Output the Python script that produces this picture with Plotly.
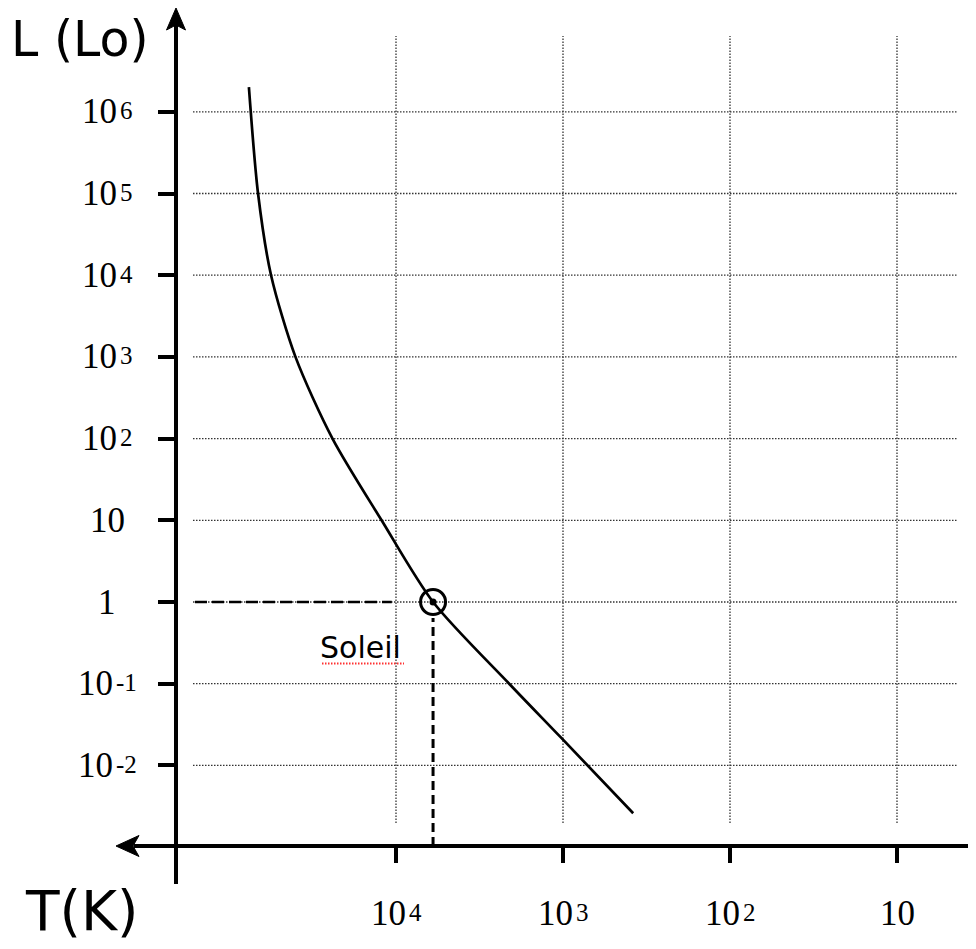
import plotly.graph_objects as go
import math

# ---------------- data ----------------
curve_T = [76000, 67000, 56000, 40000, 24000, 12200, 6000, 2100, 1030, 380]
curve_L = [2.0e6, 1.0e5, 1.0e4, 1.0e3, 1.0e2, 10, 1, 0.1, 0.022, 0.0026]

sun_T = 6000
sun_L = 1
sun_label = "Soleil"

x_tickvals = [1e4, 1e3, 1e2, 10]
x_tickbase = ["10", "10", "10", "10"]
x_tickexp = ["4", "3", "2", ""]
y_tickvals = [1e-2, 1e-1, 1, 10, 1e2, 1e3, 1e4, 1e5, 1e6]
y_tickbase = ["10", "10", "1", "10", "10", "10", "10", "10", "10"]
y_tickexp = ["-2", "-1", "", "", "2", "3", "4", "5", "6"]

y_title = "L (Lo)"
x_title = "T(K)"

# ---------------- layout geometry ----------------
# the page body adds an 8px margin, so the figure is drawn 8px smaller
# and every position below is given in page pixels
OFF = 8
W, H = 976 - OFF, 949 - OFF
PLOT_L, PLOT_R, PLOT_T, PLOT_B = 176, 976, 15, 846     # page pixels
ML, MR = PLOT_L - OFF, 0
MT, MB = PLOT_T - OFF, H - (PLOT_B - OFF)
PW, PH = W - ML - MR, H - MT - MB
X_DEC, X_REF = 167.0, 396.0   # px per decade, px of 10^4
Y_DEC, Y_REF = 81.7, 602.0    # px per decade, px of 10^0
x_range = [4 + (X_REF - PLOT_L) / X_DEC, 4 - (PLOT_R - X_REF) / X_DEC]
y_range = [(Y_REF - PLOT_B) / Y_DEC, (Y_REF - PLOT_T) / Y_DEC]


def px(p):
    return (p - PLOT_L) / PW


def py(p):
    return (PLOT_B - p) / PH


SERIF = "Liberation Serif"
SANS = "DejaVu Sans"
BIG, SMALL = 35, 25
DIGIT_W, MINUS_W = 0.5 * BIG, 0.5 * SMALL


def exp_width(e):
    return sum(MINUS_W * 0.66 if c == "-" else DIGIT_W * SMALL / BIG for c in e)


fig = go.Figure()

# guide lines to the Sun
fig.add_trace(go.Scatter(
    x=[10 ** (x_range[0] - 19 / X_DEC), 1.06e4], y=[sun_L, sun_L],
    mode="lines", line=dict(color="black", width=2.6, dash="12px,5px"),
    hoverinfo="skip", showlegend=False, cliponaxis=False))
fig.add_trace(go.Scatter(
    x=[sun_T, sun_T], y=[10 ** y_range[0], sun_L * 10 ** (-16 / Y_DEC)],
    mode="lines", line=dict(color="black", width=3, dash="9px,5px"),
    hoverinfo="skip", showlegend=False, cliponaxis=False))

# main sequence curve
fig.add_trace(go.Scatter(
    x=curve_T, y=curve_L, mode="lines",
    line=dict(color="black", width=2.7, shape="spline", smoothing=0.8),
    showlegend=False))

# Sun marker
fig.add_trace(go.Scatter(
    x=[sun_T], y=[sun_L], mode="markers",
    marker=dict(symbol="circle-open", size=25, color="black",
                line=dict(width=3, color="black")),
    showlegend=False))
fig.add_trace(go.Scatter(
    x=[sun_T], y=[sun_L], mode="markers",
    marker=dict(symbol="circle", size=7, color="black"),
    showlegend=False))

shapes = []
GRID = dict(color="#333", width=1.3, dash="1.5px,1.5px")
for v in x_tickvals:
    shapes.append(dict(type="line", xref="x", yref="paper", x0=v, x1=v,
                       y0=py(823), y1=py(36), line=GRID, layer="below"))
for v in y_tickvals:
    shapes.append(dict(type="line", xref="paper", yref="y", y0=v, y1=v,
                       x0=px(193), x1=px(957), line=GRID, layer="below"))

AX = dict(color="black", width=4)
# y axis line (with arrow)
shapes.append(dict(type="line", xref="paper", yref="paper",
                   x0=px(176), x1=px(176), y0=py(884), y1=py(24), line=AX))
shapes.append(dict(type="path", xref="paper", yref="paper",
                   path="M %f,%f L %f,%f L %f,%f L %f,%f Z" % (
                       px(176), py(8), px(185.5), py(30), px(176), py(25),
                       px(166.5), py(30)),
                   fillcolor="black", line=dict(color="black", width=1)))
# x axis line (with arrow)
shapes.append(dict(type="line", xref="paper", yref="paper",
                   x0=px(134), x1=px(976), y0=py(846), y1=py(846), line=AX))
shapes.append(dict(type="path", xref="paper", yref="paper",
                   path="M %f,%f L %f,%f L %f,%f L %f,%f Z" % (
                       px(116), py(846), px(139), py(835.5), px(133), py(846),
                       px(139), py(856.5)),
                   fillcolor="black", line=dict(color="black", width=1)))
# spell-check style red dotted underline under the label
shapes.append(dict(type="line", xref="paper", yref="paper",
                   x0=px(322), x1=px(404), y0=py(663.5), y1=py(663.5),
                   line=dict(color="#ff3030", width=2, dash="1.5px,1.5px")))

annotations = []
BIGF = dict(family=SERIF, size=BIG, color="black")
SMF = dict(family=SERIF, size=SMALL, color="black")


def tick_label(xref, yref, x, y, base, exp):
    if not exp:
        annotations.append(dict(xref=xref, yref=yref, x=x, y=y, text=base,
                                showarrow=False, xanchor="center",
                                yanchor="middle", font=BIGF, borderpad=0))
        return
    bw = len(base) * DIGIT_W
    ew = exp_width(exp)
    # junction between base and exponent, so the whole label is centred
    shift = (bw - ew) / 2
    annotations.append(dict(xref=xref, yref=yref, x=x, y=y, text=base,
                            showarrow=False, xanchor="right", xshift=shift,
                            yanchor="middle", font=BIGF, borderpad=0))
    annotations.append(dict(xref=xref, yref=yref, x=x, y=y, text=exp,
                            showarrow=False, xanchor="left", xshift=shift + 1,
                            yanchor="middle", yshift=1, font=SMF, borderpad=0))


for v, b, e in zip(y_tickvals, y_tickbase, y_tickexp):
    tick_label("paper", "y", px(107), math.log10(v), b, e)
for v, b, e in zip(x_tickvals, x_tickbase, x_tickexp):
    tick_label("x", "paper", math.log10(v), py(913), b, e)

annotations.append(dict(xref="paper", yref="paper", x=px(9), y=py(40),
                        text=y_title, showarrow=False, xanchor="left",
                        yanchor="middle",
                        font=dict(family=SANS, size=49, color="black")))
annotations.append(dict(xref="paper", yref="paper", x=px(23), y=py(911),
                        text=x_title, showarrow=False, xanchor="left",
                        yanchor="middle",
                        font=dict(family=SANS, size=55, color="black")))
annotations.append(dict(xref="paper", yref="paper", x=px(318), y=py(647),
                        text=sun_label, showarrow=False, xanchor="left",
                        yanchor="middle",
                        font=dict(family=SANS, size=30, color="black")))

fig.update_layout(
    width=W, height=H,
    margin=dict(l=ML, r=MR, t=MT, b=MB, pad=0),
    paper_bgcolor="white", plot_bgcolor="white",
    showlegend=False,
    shapes=shapes, annotations=annotations,
    xaxis=dict(type="log", range=x_range, showgrid=False, zeroline=False,
               showline=False, tickvals=x_tickvals, ticks="outside",
               ticklen=16, tickwidth=4, tickcolor="black",
               showticklabels=False),
    yaxis=dict(type="log", range=y_range, showgrid=False, zeroline=False,
               showline=False, tickvals=y_tickvals, ticks="outside",
               ticklen=17, tickwidth=4, tickcolor="black",
               showticklabels=False),
)

fig.write_html("out.html")
